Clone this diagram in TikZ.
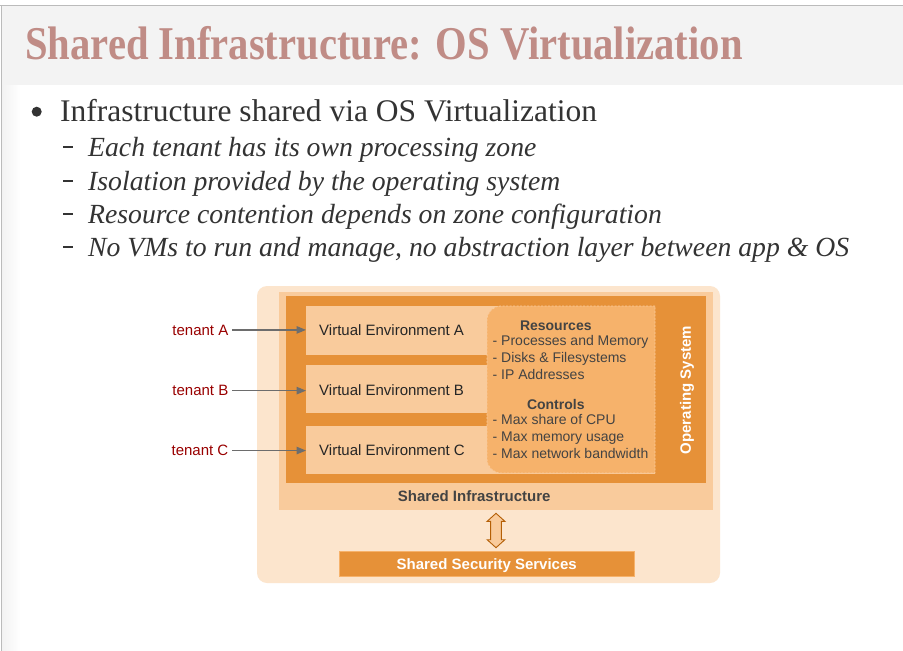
\documentclass[tikz,border=0pt]{standalone}
\usepackage{graphicx}
\usepackage{fontspec}
\setmainfont{Liberation Serif}
\newfontfamily\diagfont{Liberation Sans}
\usetikzlibrary{arrows.meta,calc}

\definecolor{bandgray}{HTML}{F3F3F3}
\definecolor{edgegray}{HTML}{BBBBBB}
\definecolor{titlerose}{RGB}{192,140,134}
\definecolor{bodygray}{HTML}{333333}
\definecolor{peachlight}{HTML}{FCE5CD}
\definecolor{peachmid}{HTML}{F9CB9C}
\definecolor{orangesoft}{HTML}{F6B26B}
\definecolor{orangedeep}{HTML}{E69138}
\definecolor{orangedark}{HTML}{B45F06}
\definecolor{tenantred}{HTML}{990000}
\definecolor{arrowgray}{HTML}{6D6D6D}
\definecolor{labelgray}{HTML}{434343}

\begin{document}
\begin{tikzpicture}[x=1pt,y=1pt,
  panel/.style={draw=none, inner sep=0pt, outer sep=0pt},
  bodytext/.style={anchor=base west, inner sep=0pt, text=bodygray},
  subline/.style={bodytext, font=\fontsize{27.7}{30}\selectfont\itshape},
  subdash/.style={panel, fill=bodygray, minimum width=10, minimum height=1.8, anchor=west},
  dlabel/.style={inner sep=0pt, font=\diagfont\fontsize{15}{18}\selectfont},
  ditem/.style={anchor=base west, inner sep=0pt, text=labelgray, font=\diagfont\fontsize{14}{17}\selectfont},
  dhead/.style={anchor=base, inner sep=0pt, text=labelgray, font=\diagfont\fontsize{14}{17}\selectfont\bfseries},
  tenant/.style={dlabel, anchor=base east, text=tenantred},
  vebox/.style={panel, fill=peachmid, minimum width=349, anchor=north west},
  conn/.style={draw=arrowgray, line width=1.3pt, -{Triangle[length=9.5pt,width=7.5pt]}},
  dblarrow/.style={draw=orangedark, fill=peachmid, line width=0.9pt, line join=miter}
]
\useasboundingbox (0,0) rectangle (903,-651);
\fill[white] (0,0) rectangle (903,-651);

% page frame and title band
\shade[left color=black!5, right color=white] (2,-85) rectangle (20,-651);
\fill[bandgray] (2,-6) rectangle (903,-85);
\draw[edgegray, line width=1.2pt] (0,-5.4) -- (903,-5.4);
\draw[edgegray, line width=1.2pt] (1.4,-5) -- (1.4,-651);

\node[anchor=base west, inner sep=0pt, text=titlerose,
      font=\fontsize{47}{50}\selectfont\bfseries] (title) at (25,-59)
  {\scalebox{0.865}[1]{Shared Infrastructure: OS Virtualization}};

% bullet list
\node[panel, circle, fill=bodygray, minimum size=10] (dot) at (36.7,-111.7) {};
\node[bodytext, font=\fontsize{31.5}{34}\selectfont] (b0) at (60,-121)
  {Infrastructure shared via OS Virtualization};

\node[subdash] (d1) at (63,-147.3) {};
\node[subline] (s1) at (88,-156.7) {Each tenant has its own processing zone};
\node[subdash] (d2) at (63,-180.6) {};
\node[subline] (s2) at (88,-190) {Isolation provided by the operating system};
\node[subdash] (d3) at (63,-213.9) {};
\node[subline] (s3) at (88,-223.3) {Resource contention depends on zone configuration};
\node[subdash] (d4) at (63,-247.3) {};
\node[subline] (s4) at (88,-256.7) {No VMs to run and manage, no abstraction layer between app \& OS};

% diagram: nested layers
\node[panel, fill=peachlight, rounded corners=10pt, minimum width=463, minimum height=297] (outer) at (488.5,-434.5) {};
\node[panel, fill=peachmid, minimum width=434, minimum height=218] (infra) at (496,-401) {};
\node[panel, fill=orangedeep, minimum width=420, minimum height=187] (os) at (496,-389.5) {};

\node[vebox, minimum height=49] (veA) at (306,-306) {};
\node[vebox, minimum height=48] (veB) at (306,-365) {};
\node[vebox, minimum height=48] (veC) at (306,-426) {};

% shared resources / controls panel, rounded on the left only
\filldraw[fill=orangesoft, draw=peachmid, line width=0.8pt, dash pattern=on 2pt off 1.5pt]
  (655,-306) -- (501,-306) arc[start angle=90, end angle=180, radius=14]
  -- (487,-459) arc[start angle=180, end angle=270, radius=14]
  -- (655,-473) -- cycle;

\node[dlabel, anchor=base west, text=black!85] (veAt) at (319,-335) {Virtual Environment A};
\node[dlabel, anchor=base west, text=black!85] (veBt) at (319,-395) {Virtual Environment B};
\node[dlabel, anchor=base west, text=black!85] (veCt) at (319,-455.7) {Virtual Environment C};

\node[dhead] (res) at (555.8,-330.7) {Resources};
\node[ditem] (r1) at (492.5,-345.7) {- Processes and Memory};
\node[ditem] (r2) at (492.5,-362.7) {- Disks \& Filesystems};
\node[ditem] (r3) at (492.5,-379.3) {- IP Addresses};
\node[dhead] (ctl) at (555.8,-409) {Controls};
\node[ditem] (c1) at (492.5,-424.3) {- Max share of CPU};
\node[ditem] (c2) at (492.5,-441.7) {- Max memory usage};
\node[ditem] (c3) at (492.5,-458.3) {- Max network bandwidth};

\node[dlabel, rotate=90, text=white, font=\diagfont\fontsize{15}{18}\selectfont\bfseries] (osl) at (687,-390) {Operating System};

\node[dlabel, anchor=base, text=labelgray, font=\diagfont\fontsize{15}{18}\selectfont\bfseries] (infrat) at (474.2,-501.7) {Shared Infrastructure};

\node[panel, fill=orangedeep, draw=orangesoft, line width=1pt, minimum width=295, minimum height=25] (sec) at (486.5,-563.5) {};
\node[dlabel, anchor=base, text=white, font=\diagfont\fontsize{15}{18}\selectfont\bfseries] (sect) at (486.7,-569.3) {Shared Security Services};

% link between infrastructure and security services
\coordinate (link) at ($(infra.south)!0.5!(infra.south |- sec.north)$);
\draw[dblarrow] ($(link)+(0,17.2)$) -- ++(8.85,-8) -- ++(-3.5,0) -- ++(0,-18.4) -- ++(3.5,0)
  -- ++(-8.85,-8) -- ++(-8.85,8) -- ++(3.5,0) -- ++(0,18.4) -- ++(-3.5,0) -- cycle;

% tenants
\node[tenant] (tA) at (228.5,-335) {tenant A};
\node[tenant] (tB) at (228.5,-395.7) {tenant B};
\node[tenant] (tC) at (228.5,-455.7) {tenant C};
\draw[conn] ([xshift=3.5pt]tA.east) -- (veA.west |- tA.east);
\draw[conn] ([xshift=3.5pt]tB.east) -- (veB.west |- tB.east);
\draw[conn] ([xshift=3.5pt]tC.east) -- (veC.west |- tC.east);
\end{tikzpicture}
\end{document}
